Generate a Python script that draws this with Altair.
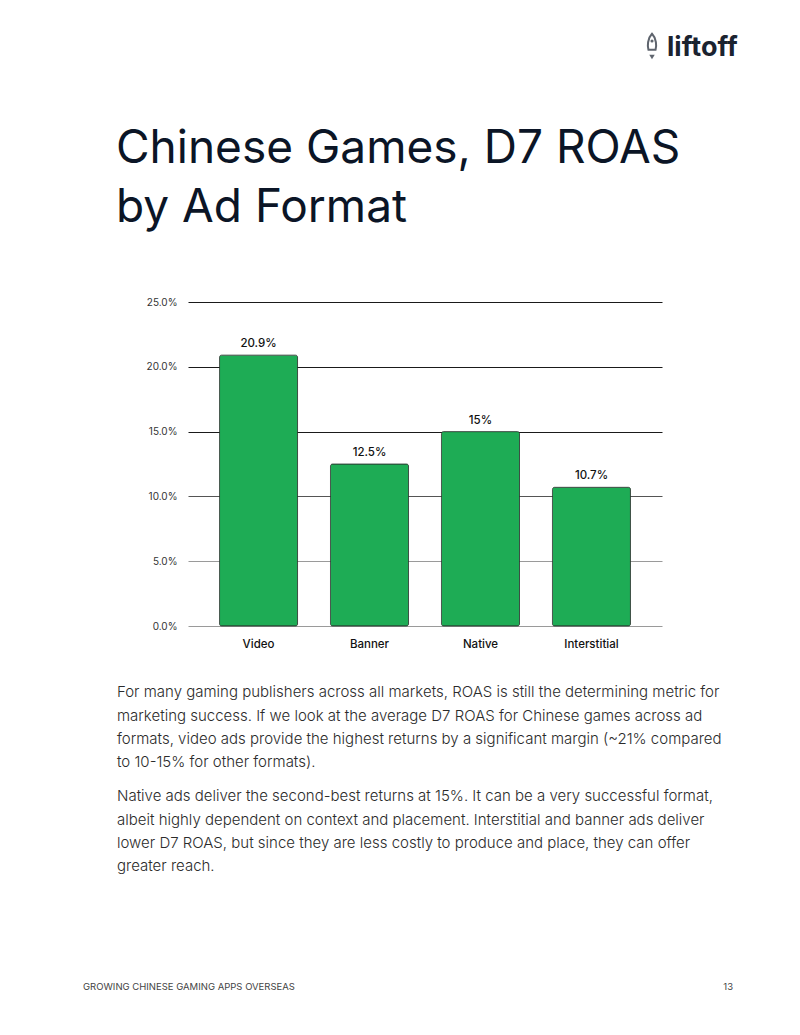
import altair as alt
import pandas as pd

# ---- data ----
formats = ["Video", "Banner", "Native", "Interstitial"]
roas = [0.209, 0.125, 0.15, 0.107]
y_ticks = [0.0, 0.05, 0.10, 0.15, 0.20, 0.25]

title_lines = ["Chinese Games, D7 ROAS", "by Ad Format"]
para1 = [
    "For many gaming publishers across all markets, ROAS is still the determining metric for",
    "marketing success. If we look at the average D7 ROAS for Chinese games across ad",
    "formats, video ads provide the highest returns by a significant margin (~21% compared",
    "to 10-15% for other formats).",
]
para2 = [
    "Native ads deliver the second-best returns at 15%. It can be a very successful format,",
    "albeit highly dependent on context and placement. Interstitial and banner ads deliver",
    "lower D7 ROAS, but since they are less costly to produce and place, they can offer",
    "greater reach.",
]
footer_left = "GROWING CHINESE GAMING APPS OVERSEAS"
footer_right = "13"
logo_text = "liftoff"

FONT = "Inter"
# plot origin in page coords
OX, OY = 188, 302
PW, PH = 474, 324

df = pd.DataFrame({"format": formats, "roas": roas})

grid_color = {
    "condition": [
        {"test": "datum.value >= 0.145", "value": "#1a1a1a"},
        {"test": "datum.value >= 0.095", "value": "#555555"},
    ],
    "value": "#9a9a9a",
}

base = alt.Chart(df)

bars = base.mark_bar(
    color="#1EAC55", stroke="#2a3a30", strokeWidth=0.8, cornerRadius=2
).encode(
    x=alt.X(
        "format:N",
        sort=formats,
        scale=alt.Scale(paddingInner=0.297, paddingOuter=0.284),
        axis=alt.Axis(
            title=None, domain=False, ticks=False, labelAngle=0,
            labelFont=FONT, labelFontSize=11.5, labelColor="#111111",
            labelPadding=12, labelFontWeight=500,
        ),
    ),
    y=alt.Y(
        "roas:Q",
        scale=alt.Scale(domain=[0, 0.25], nice=False),
        axis=alt.Axis(
            title=None, domain=False, ticks=False, values=y_ticks,
            format=".1%", labelFont=FONT, labelFontSize=10,
            labelColor="#333333", labelPadding=11,
            grid=True, gridColor=grid_color, gridWidth=1,
        ),
    ),
)

labels = base.mark_text(
    baseline="bottom", dy=-6, font=FONT, fontSize=11.5, color="#111111", fontWeight=500
).encode(
    x=alt.X("format:N", sort=formats),
    y="roas:Q",
    text=alt.Text("roas:Q", format=".3~%"),
)


def txt(s, x, y, **kw):
    return alt.Chart(pd.DataFrame({"t": [s]})).mark_text(**kw).encode(
        text="t:N", x=alt.value(x - OX), y=alt.value(y - OY)
    )


layers = [bars, labels]

# title
for i, line in enumerate(title_lines):
    layers.append(
        txt(line, 116, 163 + i * 59, align="left", baseline="alphabetic",
            font=FONT, fontSize=46, fontWeight=400, color="#0B1526")
    )

# paragraphs
para_y1 = [692, 716, 739, 762]
para_y2 = [796, 820, 843, 866]
for line, yy in zip(para1, para_y1):
    layers.append(txt(line, 117, yy, align="left", baseline="middle",
                      font=FONT, fontSize=15, fontWeight=300, color="#2b2b2b"))
for line, yy in zip(para2, para_y2):
    layers.append(txt(line, 117, yy, align="left", baseline="middle",
                      font=FONT, fontSize=15, fontWeight=300, color="#2b2b2b"))

# footer
layers.append(txt(footer_left, 83, 987, align="left", baseline="middle",
                  font=FONT, fontSize=9.5, color="#444444"))
layers.append(txt(footer_right, 733, 987, align="right", baseline="middle",
                  font=FONT, fontSize=9.5, color="#444444"))

# logo
layers.append(txt(logo_text, 667, 48, align="left", baseline="middle",
                  font=FONT, fontSize=27, fontWeight=700, color="#1b2330"))
rocket = "M0,-1 C0.45,-0.55 0.45,0.25 0.35,0.55 L-0.35,0.55 C-0.45,0.25 -0.45,-0.55 0,-1 Z"
layers.append(
    alt.Chart(pd.DataFrame({"k": [0]})).mark_point(
        shape=rocket, size=420, filled=False, stroke="#1b2330", strokeWidth=2
    ).encode(x=alt.value(652 - OX), y=alt.value(44 - OY))
)
layers.append(
    alt.Chart(pd.DataFrame({"k": [0]})).mark_point(
        shape="triangle-down", size=30, filled=True, color="#1b2330"
    ).encode(x=alt.value(652 - OX), y=alt.value(57 - OY))
)
layers.append(
    alt.Chart(pd.DataFrame({"k": [0]})).mark_point(
        shape="circle", size=10, filled=True, color="#1b2330"
    ).encode(x=alt.value(652 - OX), y=alt.value(41 - OY))
)

chart = alt.layer(*layers).properties(
    width=PW, height=PH,
    autosize=alt.AutoSizeParams(type="none"),
    padding={"left": OX, "top": OY, "right": 800 - OX - PW, "bottom": 1035 - OY - PH},
    background="white",
).configure_view(stroke=None)

chart.save("out.html", embed_options={"renderer": "svg", "actions": False})
